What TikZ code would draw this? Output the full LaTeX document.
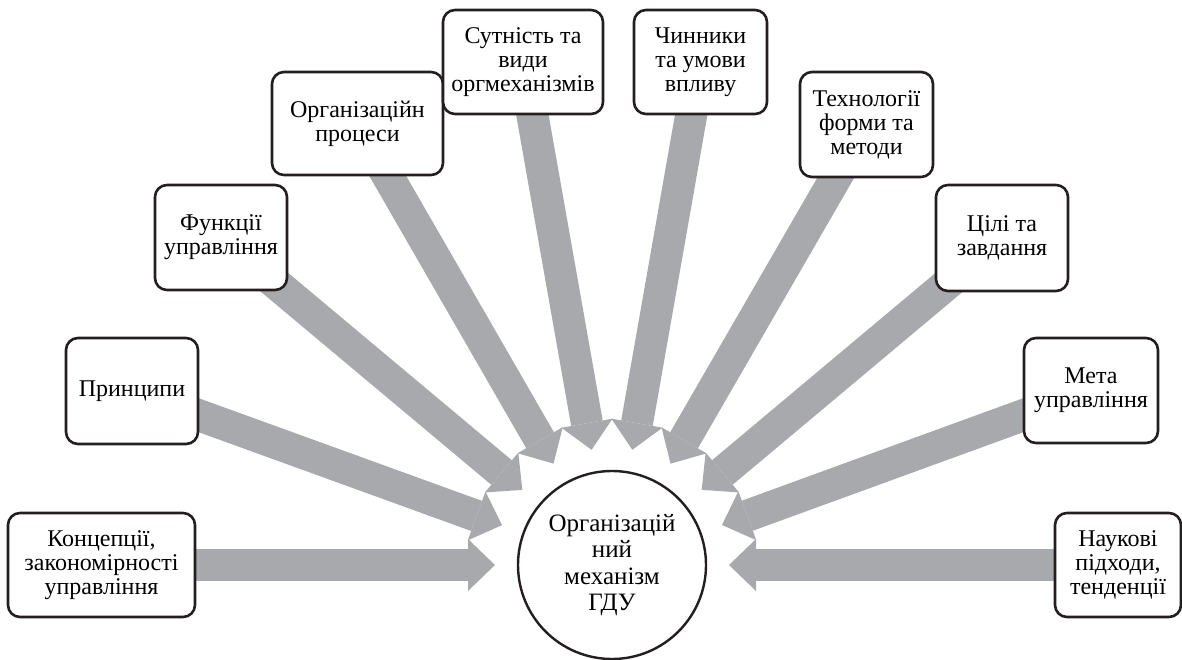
\documentclass[tikz,border=0pt]{standalone}
\usepackage{fontspec}
\setmainfont{Liberation Serif}
\usetikzlibrary{arrows.meta,calc,backgrounds}
\definecolor{arrowgray}{HTML}{A7A9AC}
\definecolor{edgeblack}{HTML}{231F20}
\tikzset{
  box/.style={draw=edgeblack, line width=2.6pt, rounded corners=12pt, fill=white,
    align=center, inner sep=1pt, font=\fontsize{24}{24}\selectfont},
  hub/.style={draw=edgeblack, line width=2.4pt, circle, fill=white, minimum size=188pt,
    align=center, inner sep=0pt, font=\fontsize{25}{26.5}\selectfont},
  flow/.style={line width=32pt, color=arrowgray,
    -{Triangle[width=52pt,length=27pt,line width=0pt]}}
}
\begin{document}
\begin{tikzpicture}[x=1pt,y=-1pt]
\useasboundingbox (0,0) rectangle (1182,659);
\node[hub] (c) at (612,565) {Організацій\\ний\\механізм\\ГДУ};
\node[box, minimum width=187pt, minimum height=104pt] (b1) at (101.5,565) {Концепції,\\закономірності\\управління};
\node[box, minimum width=132pt, minimum height=106pt] (b2) at (132,391) {Принципи};
\node[box, minimum width=132pt, minimum height=105pt] (b3) at (221,237.5) {Функції\\управління};
\node[box, minimum width=171pt, minimum height=103pt] (b4) at (357.5,123.5) {Організаційн\\процеси};
\node[box, minimum width=160pt, minimum height=104pt] (b5) at (523,62) {Сутність та\\види\\оргмеханізмів};
\node[box, minimum width=133pt, minimum height=104pt] (b6) at (700.5,62) {Чинники\\та умови\\впливу};
\node[box, minimum width=133pt, minimum height=105pt] (b7) at (866.5,124.5) {Технології\\форми та\\методи};
\node[box, minimum width=132pt, minimum height=106pt] (b8) at (1002,238) {Цілі та\\завдання};
\node[box, minimum width=134pt, minimum height=105pt] (b9) at (1091,390.5) {Мета\\управління};
\node[box, minimum width=126pt, minimum height=104pt] (b10) at (1118,565) {Наукові\\підходи,\\тенденції};
\begin{pgfonlayer}{background}
\foreach \b in {b1,b2,b3,b4,b5,b6,b7,b8,b9,b10}{
  \draw[flow] (\b.center) -- ($(c.center)!117pt!(\b.center)$);
}
\end{pgfonlayer}
\end{tikzpicture}
\end{document}
